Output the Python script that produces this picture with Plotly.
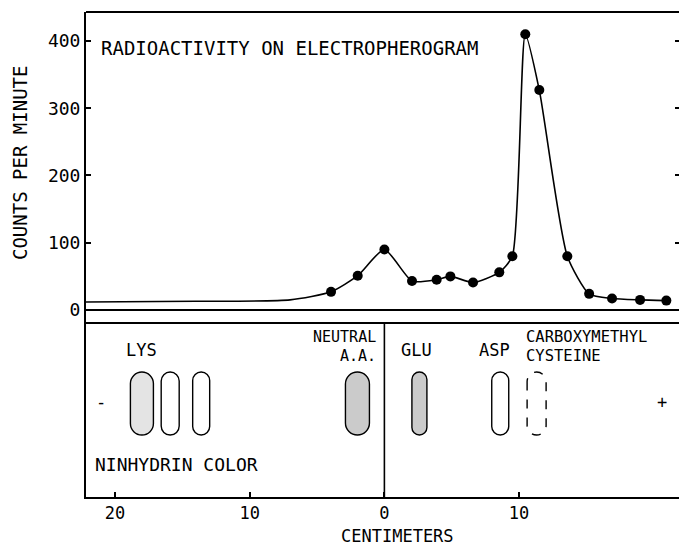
import plotly.graph_objects as go

# ---- data ----
# measured points (centimeters from origin, counts per minute)
pt_x = [-3.96, -1.98, 0.0, 2.05, 3.88, 4.9, 6.58, 8.53, 9.5, 10.46, 11.5, 13.58, 15.2, 16.9, 18.98, 20.93]
pt_y = [27, 51, 90, 43, 45, 50, 41, 56, 80, 410, 327, 80, 24, 17, 15, 14]
# unmarked baseline of the curve to the left of the first point
base_x = [-22.15, -14.0, -7.0]
base_y = [12, 13, 15]

# ninhydrin spots
spot_x = [-18.0, -15.9, -13.6, -2.0, 2.6, 8.6, 11.3]
spot_kind = ["stipple", "open", "open", "hatch", "hatch", "open", "dashed"]

x_tickvals = [-20, -10, 0, 10]
x_ticktext = ["20", "10", "0", "10"]
y_tickvals = [0, 100, 200, 300, 400]

# spot labels (x in cm, y in lower panel units)
lbl_text = ["LYS", "GLU", "ASP"]
lbl_x = [-18.0, 2.35, 8.2]

# ---- style ----
FONT = "DejaVu Sans Mono"
INK = "black"
SPLIT = 0.3588

fig = go.Figure()

fig.add_trace(go.Scatter(
    x=base_x + pt_x, y=base_y + pt_y, mode="lines",
    line=dict(color=INK, width=1.6, shape="spline", smoothing=0.6),
    hoverinfo="skip", showlegend=False))
fig.add_trace(go.Scatter(
    x=pt_x, y=pt_y, mode="markers",
    marker=dict(color=INK, size=10), showlegend=False))
# invisible trace so the right-hand tick axis is drawn
fig.add_trace(go.Scatter(
    x=pt_x[:1], y=pt_y[:1], yaxis="y3", mode="markers",
    marker=dict(opacity=0), hoverinfo="skip", showlegend=False))

# capsule-shaped spots drawn in pixel size mode at data anchors
spot_w = [23, 18, 17, 24, 15, 17, 19]
spot_h = 63
fills = {"stipple": "#e4e4e4", "open": "white", "hatch": "#cbcbcb", "dashed": "white"}


def capsule(a, b):
    r = a
    k = 0.5523 * r
    c = b - r
    return (f"M {-a},{c} L {-a},{-c} C {-a},{-c-k} {-k},{-b} 0,{-b} "
            f"C {k},{-b} {a},{-c-k} {a},{-c} L {a},{c} "
            f"C {a},{c+k} {k},{b} 0,{b} C {-k},{b} {-a},{c+k} {-a},{c} Z")


shapes = []
for sx, kind, w in zip(spot_x, spot_kind, spot_w):
    shapes.append(dict(
        type="path", xref="x", yref="y2", xsizemode="pixel", ysizemode="pixel",
        xanchor=sx, yanchor=0.537, path=capsule(w / 2, spot_h / 2),
        fillcolor=fills[kind],
        line=dict(color=INK, width=1.4, dash="dash" if kind == "dashed" else "solid")))

# frame lines
shapes += [
    dict(type="line", xref="paper", yref="paper", x0=0, x1=1, y0=1, y1=1,
         line=dict(color=INK, width=2)),
    dict(type="line", xref="paper", yref="paper", x0=0, x1=1, y0=SPLIT, y1=SPLIT,
         line=dict(color=INK, width=2)),
    dict(type="line", xref="x", yref="y2", x0=0, x1=0, y0=0, y1=1,
         line=dict(color=INK, width=1.6)),
]

ann = []
def txt(text, x, y, xref="x", yref="y2", xanchor="center", size=17, angle=0):
    ann.append(dict(text=text, x=x, y=y, xref=xref, yref=yref, xanchor=xanchor,
                    yanchor="middle", showarrow=False, textangle=angle,
                    font=dict(family=FONT, size=size, color=INK)))

for t, xx in zip(lbl_text, lbl_x):
    txt(t, xx, 0.845)
txt("NEUTRAL", -0.45, 0.92, xanchor="right", size=15)
txt("A.A.", -0.45, 0.81, xanchor="right", size=15)
txt("CARBOXYMETHYL", 10.35, 0.92, xanchor="left", size=15.5)
txt("CYSTEINE", 10.35, 0.81, xanchor="left", size=15.5)
txt("-", -21.0, 0.545)
txt("+", 20.6, 0.545)
txt("NINHYDRIN COLOR", -21.6, 0.184, xanchor="left", size=18)
txt("RADIOACTIVITY ON ELECTROPHEROGRAM", -21.2, 389, yref="y", xanchor="left", size=19)
txt("CENTIMETERS", 0.94, -0.08, yref="paper", size=17)
txt("COUNTS PER MINUTE", -0.111, 0.689, xref="paper", yref="paper", size=19, angle=-90)

fig.update_layout(
    width=679, height=547,
    margin=dict(l=86, r=0, t=12, b=50),
    paper_bgcolor="white", plot_bgcolor="white",
    font=dict(family=FONT, color=INK, size=18),
    shapes=shapes, annotations=ann, showlegend=False,
    xaxis=dict(range=[-22.15, 21.87], anchor="y2", tickvals=x_tickvals, ticktext=x_ticktext,
               ticks="inside", ticklen=5, tickwidth=1.5, tickcolor=INK,
               showline=True, linecolor=INK, linewidth=2, showgrid=False, zeroline=False,
               tickfont=dict(family=FONT, size=17)),
    yaxis=dict(domain=[SPLIT, 1], range=[-19.3, 443.1], tickvals=y_tickvals,
               ticks="inside", ticklen=5, tickwidth=1.5, tickcolor=INK,
               showline=True, linecolor=INK, linewidth=2, showgrid=False,
               zeroline=True, zerolinecolor=INK, zerolinewidth=1.6,
               tickfont=dict(family=FONT, size=18)),
    yaxis2=dict(domain=[0, SPLIT], range=[0, 1], showticklabels=False, ticks="",
                showline=True, linecolor=INK, linewidth=2, showgrid=False, zeroline=False),
    yaxis3=dict(overlaying="y", side="right", range=[-19.3, 443.1], tickvals=y_tickvals[1:],
                ticks="inside", ticklen=4, tickwidth=1.5, tickcolor=INK,
                showticklabels=False, showline=False, showgrid=False, zeroline=False),
)

fig.write_html("out.html")
